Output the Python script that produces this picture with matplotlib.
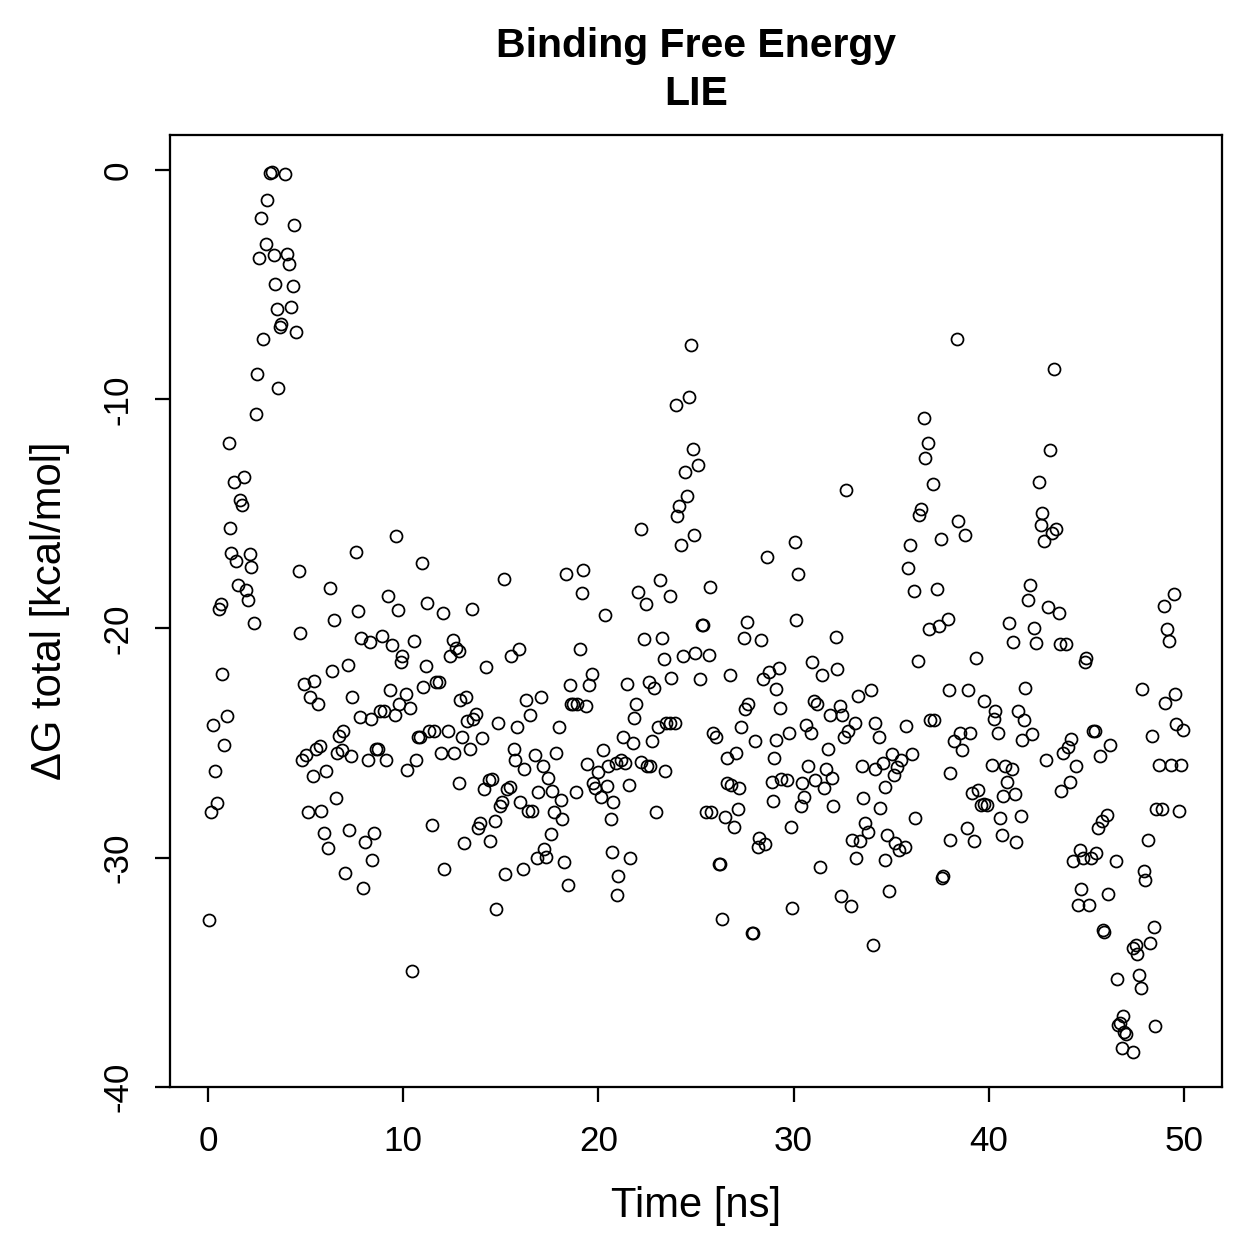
import numpy as np
import matplotlib
matplotlib.use("Agg")
import matplotlib.pyplot as plt

plt.rcParams['font.family'] = ['Liberation Sans', 'DejaVu Sans']
plt.rcParams['axes.unicode_minus'] = False

# frames (time in ns, dG in kcal/mol)
time_ns = [
    0.03, 0.14, 0.26, 0.34, 0.46, 0.55, 0.65, 0.73, 0.82, 0.97, 1.06, 1.14, 1.2, 1.31, 1.42, 1.54, 1.66, 1.74, 1.84, 1.96,
    2.05, 2.13, 2.22, 2.34, 2.44, 2.53, 2.63, 2.73, 2.83, 2.95, 3.04, 3.16, 3.28, 3.38, 3.45, 3.54, 3.59, 3.7, 3.76,
    3.96, 4.05, 4.15, 4.25, 4.34, 4.42, 4.51,
    4.68, 4.72, 4.82, 4.93, 5.02, 5.11, 5.24, 5.36, 5.45, 5.53, 5.65, 5.74, 5.8, 5.92, 6.04, 6.16, 6.27, 6.35, 6.44, 6.56,
    6.61, 6.73, 6.87, 6.93, 7.03, 7.15, 7.24, 7.33, 7.38, 7.58, 7.67, 7.79, 7.84, 7.95,
    8.02, 8.2, 8.3, 8.36, 8.42, 8.5, 8.62, 8.72, 8.8, 8.93, 9.02, 9.14, 9.22, 9.32, 9.44, 9.56, 9.65, 9.75, 9.79, 9.87,
    9.96, 10.13, 10.21, 10.35, 10.44, 10.55, 10.64, 10.78, 10.84, 10.95, 11.01, 11.15, 11.24, 11.32, 11.46, 11.58, 11.66,
    11.83, 11.92, 12.04,
    12.09, 12.28, 12.42, 12.55, 12.59, 12.72, 12.84, 12.88, 12.93, 13.01, 13.13, 13.23, 13.27, 13.44, 13.5, 13.56, 13.75,
    13.81, 13.95, 14.04, 14.12, 14.26, 14.38, 14.46, 14.55, 14.69, 14.77, 14.84, 14.98, 15.06, 15.15, 15.23, 15.32, 15.46,
    15.52, 15.66, 15.75, 15.83, 15.91, 15.99, 16.14, 16.21, 16.3, 16.38, 16.5,
    16.58, 16.75, 16.84, 16.92, 17.04, 17.14, 17.21, 17.32, 17.43, 17.55, 17.6, 17.72, 17.83, 18.0, 18.08, 18.15, 18.24,
    18.34, 18.46, 18.52, 18.6, 18.72, 18.85, 18.89, 19.06, 19.14, 19.23, 19.35, 19.43, 19.54, 19.65, 19.7, 19.83, 19.99,
    20.11, 20.22, 20.34, 20.42, 20.5, 20.63, 20.68, 20.77,
    20.9, 20.95, 21.0, 21.17, 21.26, 21.38, 21.46, 21.55, 21.64, 21.77, 21.81, 21.94, 22.03, 22.16, 22.2, 22.34, 22.45,
    22.48, 22.59, 22.63, 22.76, 22.83, 22.93, 23.05, 23.14, 23.26, 23.34, 23.43, 23.48, 23.65, 23.68, 23.74, 23.9, 23.96,
    24.03, 24.13, 24.25, 24.33, 24.42, 24.54, 24.64, 24.76, 24.84, 24.88, 24.93,
    25.1, 25.3, 25.35, 25.2, 25.51, 25.65, 25.72, 25.77, 25.89, 26.02, 26.2, 26.25, 26.33, 26.5, 26.57, 26.6, 26.74,
    26.79, 26.96, 27.05, 27.13, 27.22, 27.3, 27.44, 27.5, 27.6, 27.68, 27.85, 27.9, 28.04, 28.16, 28.24, 28.33, 28.45,
    28.52, 28.64, 28.76, 28.89, 28.96, 29.01, 29.08, 29.12, 29.27, 29.3, 29.35,
    29.68, 29.77, 29.85, 29.94, 30.06, 30.14, 30.24, 30.36, 30.45, 30.53, 30.62, 30.75, 30.87, 30.96, 31.04, 31.09, 31.2,
    31.34, 31.44, 31.56, 31.64, 31.78, 31.85, 31.95, 32.02, 32.16, 32.24, 32.36, 32.41, 32.49, 32.58, 32.7, 32.78, 32.92,
    33.0, 33.15, 33.21, 33.3, 33.38,
    33.5, 33.56, 33.64, 33.81, 33.98, 34.05, 34.15, 34.18, 34.35, 34.44, 34.56, 34.67, 34.7, 34.78, 34.9, 35.04, 35.12,
    35.21, 35.32, 35.4, 35.52, 35.69, 35.76, 35.86, 35.98, 36.06, 36.15, 36.24, 36.35, 36.44, 36.55, 36.66, 36.75, 36.88,
    36.92, 37.0, 37.14, 37.2, 37.34, 37.43, 37.55, 37.6, 37.65,
    37.9, 37.95, 38.0, 38.02, 38.24, 38.35, 38.44, 38.53, 38.65, 38.78, 38.87, 38.95, 39.04, 39.12, 39.26, 39.34, 39.46,
    39.6, 39.75, 39.9, 39.76, 40.14, 40.27, 40.3, 40.45, 40.57, 40.66, 40.74, 40.83, 40.91, 41.05, 41.17, 41.25, 41.34,
    41.41, 41.5, 41.64, 41.68, 41.8, 41.85,
    42.0, 42.12, 42.21, 42.3, 42.43, 42.55, 42.66, 42.74, 42.83, 42.95, 43.03, 43.15, 43.23, 43.34, 43.46, 43.58, 43.63,
    43.72, 43.8, 43.97, 44.06, 44.14, 44.23, 44.32, 44.49, 44.57, 44.66, 44.7, 44.83, 44.94, 44.99, 45.13, 45.26, 45.33,
    45.45, 45.5, 45.6, 45.72, 45.85, 45.8, 46.07, 46.11, 46.19, 45.9,
    46.5, 46.55, 46.6, 46.7, 46.8, 46.85, 46.95, 47.05, 47.37, 47.4, 47.54, 47.6, 47.7, 47.8, 47.83, 47.96, 48.01, 48.14,
    48.27, 48.34, 48.44, 48.5, 48.57, 48.74, 48.86, 48.96, 49.03, 49.13, 49.25, 49.33, 49.47, 49.53, 49.59, 49.76, 49.84,
    49.93,
]

dg_total = [
    -32.7, -28.0, -24.2, -26.2, -27.6, -19.15, -18.95, -22.0, -25.1, -23.8, -11.9, -15.6, -16.7, -13.6, -17.06, -18.09,
    -14.4, -14.6, -13.4, -18.3, -18.75, -16.76, -17.34, -19.75, -10.64, -8.88, -3.84, -2.08, -7.37, -3.21, -1.33, -0.12,
    -0.07, -3.72, -4.98, -6.06, -9.51, -6.86, -6.74,
    -0.19, -3.67, -4.1, -5.98, -5.05, -2.41, -7.07,
    -17.49, -20.2, -25.75, -22.4, -25.5, -28.0, -22.98, -26.45, -22.3, -25.24, -23.28, -25.12, -27.94, -28.9, -26.2,
    -29.57, -18.24, -21.85, -19.65, -27.4, -25.44, -24.69, -25.3, -24.49, -30.66, -21.6, -28.77, -25.57, -22.98, -16.68,
    -19.25, -23.86, -20.41, -31.34,
    -29.3, -25.75, -20.58, -23.93, -30.08, -28.94, -25.24, -25.24, -23.6, -20.33, -23.6, -25.75, -18.57, -22.67, -20.71,
    -23.78, -15.98, -19.2, -23.28, -21.47, -21.2, -22.85, -26.17, -23.48, -34.96, -20.53, -25.75, -24.74, -24.74, -17.14,
    -22.55, -21.62, -18.87, -24.49, -28.59, -24.49, -22.35, -22.35, -25.44, -19.33,
    -30.48, -24.49, -21.2, -20.5, -25.44, -20.84, -21.0, -26.75, -23.1, -24.74, -29.35, -22.98, -24.03, -25.24, -19.15,
    -23.93, -23.73, -28.7, -28.5, -24.79, -27.0, -21.67, -26.6, -29.27, -26.55, -28.39, -32.24, -24.11, -27.76, -27.56,
    -17.82, -30.7, -27.0, -26.9, -21.2, -25.24, -25.75, -24.29, -20.9, -27.56, -30.48, -26.12, -23.1, -27.96, -23.78,
    -27.96, -25.5, -30.03, -27.13, -22.98, -26.0, -29.6, -29.95, -26.5, -28.97, -27.08, -28.0, -25.42, -24.29, -27.46,
    -28.31, -30.2, -17.62, -31.2, -22.47, -23.3, -23.3, -27.13, -23.3, -20.91, -18.45, -17.44, -23.4, -25.92, -22.47,
    -21.97, -26.75, -26.96, -26.25, -27.33, -25.32, -19.4, -26.88, -26.0, -28.31, -29.73, -27.56,
    -25.87, -31.61, -30.78, -25.75, -24.74, -25.87, -22.42, -26.83, -30.03, -24.99, -23.9, -23.28, -18.4, -15.68, -25.82,
    -20.46, -18.95, -26.0, -22.35, -26.0, -24.91, -22.6, -28.01, -24.31, -17.87, -20.41, -21.34, -26.2, -24.11, -18.57,
    -24.11, -22.17, -24.11, -10.26, -15.1, -14.67, -16.38, -21.22, -13.16, -14.22, -9.89, -7.62, -12.15, -15.93, -21.09,
    -12.86, -19.83, -19.83, -22.2, -28.01, -21.16, -18.19, -28.01, -24.54, -24.74, -30.28, -30.28, -32.67, -28.21, -25.67,
    -26.75, -22.04, -26.83, -28.64, -25.44, -27.89, -26.96, -24.31, -20.41, -23.53, -19.7, -23.28, -33.3, -33.3, -24.91,
    -29.52, -29.14, -20.51, -22.22, -29.4, -16.88, -21.89, -26.68, -27.51, -25.67, -22.65, -24.86, -21.72, -23.48, -26.55,
    -26.63, -24.56, -28.64, -32.19, -16.23, -19.65, -17.62, -27.76, -26.75, -27.33, -24.19, -25.99, -24.56, -21.47,
    -23.15, -26.63, -23.3, -30.4, -22.04, -26.96, -26.12, -25.24, -23.78, -26.5, -27.76, -20.38, -21.77, -23.36, -31.66,
    -23.78, -24.74, -13.96, -24.49, -32.12, -29.22, -24.11, -30.03, -22.93, -29.27,
    -25.99, -27.38, -28.47, -28.89, -22.67, -33.8, -24.11, -26.12, -24.74, -27.81, -25.87, -26.93, -30.08, -29.02,
    -31.46, -25.49, -26.37, -29.35, -26.05, -29.65, -25.75, -29.52, -24.24, -17.36, -16.36, -25.49, -18.37, -28.26,
    -21.42, -15.05, -14.8, -10.82, -12.58, -11.9, -20.03, -24.0, -13.71, -24.0, -18.27, -19.9, -16.08, -30.9, -30.78,
    -19.58, -22.67, -26.3, -29.22, -24.92, -7.37, -15.3, -24.56, -25.32, -15.93, -28.69, -22.67, -24.56, -27.18, -29.27,
    -21.27, -27.06, -27.7, -27.65, -27.7, -23.18, -25.95, -23.93, -23.6, -24.56, -28.26, -29.02, -27.3, -26.0, -26.7,
    -19.76, -26.12, -20.58, -27.21, -29.32, -23.6, -28.19, -24.86, -23.99, -22.6,
    -18.77, -18.12, -24.62, -19.96, -20.63, -13.59, -15.47, -14.97, -16.18, -25.75, -19.07, -12.2, -15.85, -8.68, -15.68,
    -19.33, -20.66, -27.08, -25.42, -20.66, -25.19, -26.7, -24.82, -30.15, -26.0, -32.04, -29.65, -31.36, -30.03, -21.47,
    -21.27, -32.04, -30.03, -24.49, -24.49, -29.78, -28.72, -25.57, -33.17, -28.39, -28.14, -31.59, -25.07, -33.25,
    -30.15, -35.3, -37.3, -37.2, -38.3, -36.9, -37.6, -37.7, -38.46, -33.93, -33.8, -34.2, -35.1, -35.7, -22.65, -30.58,
    -30.98, -29.22, -33.73, -24.69, -33.0, -37.33, -27.89, -25.95, -27.89, -19.03, -23.23, -20.01, -20.53, -25.95, -18.5,
    -22.85, -24.18, -27.96, -25.95, -24.41,
]

x_ticks = [0, 10, 20, 30, 40, 50]
y_ticks = [-40, -30, -20, -10, 0]

fig = plt.figure(figsize=(6.995, 6.995), dpi=180)
ax = fig.add_axes([0.135, 0.1366, 0.8356, 0.7562])

ax.plot(time_ns, dg_total, linestyle='none', marker='o', ms=4.8,
        mfc='none', mec='black', mew=0.7)

ax.set_xlim(-1.95, 51.95)
ax.set_ylim(-40.0, 1.53)
ax.set_xticks(x_ticks)
ax.set_yticks(y_ticks)
ax.tick_params(direction='out', length=6, width=0.9, labelsize=14,
               top=False, right=False)
ax.tick_params(axis='x', pad=9)
ax.tick_params(axis='y', pad=8)
plt.setp(ax.get_yticklabels(), rotation=90, va='center')
for s in ax.spines.values():
    s.set_linewidth(0.9)

ax.set_title("Binding Free Energy\nLIE", fontsize=16.4, fontweight='bold',
             linespacing=1.32, pad=12)
ax.set_xlabel("Time [ns]", fontsize=16.7)
ax.set_ylabel("\u0394G total [kcal/mol]", fontsize=16.7)
ax.xaxis.set_label_coords(0.5, -0.104)
ax.yaxis.set_label_coords(-0.095, 0.5)

fig.savefig("out.png", dpi=180)
